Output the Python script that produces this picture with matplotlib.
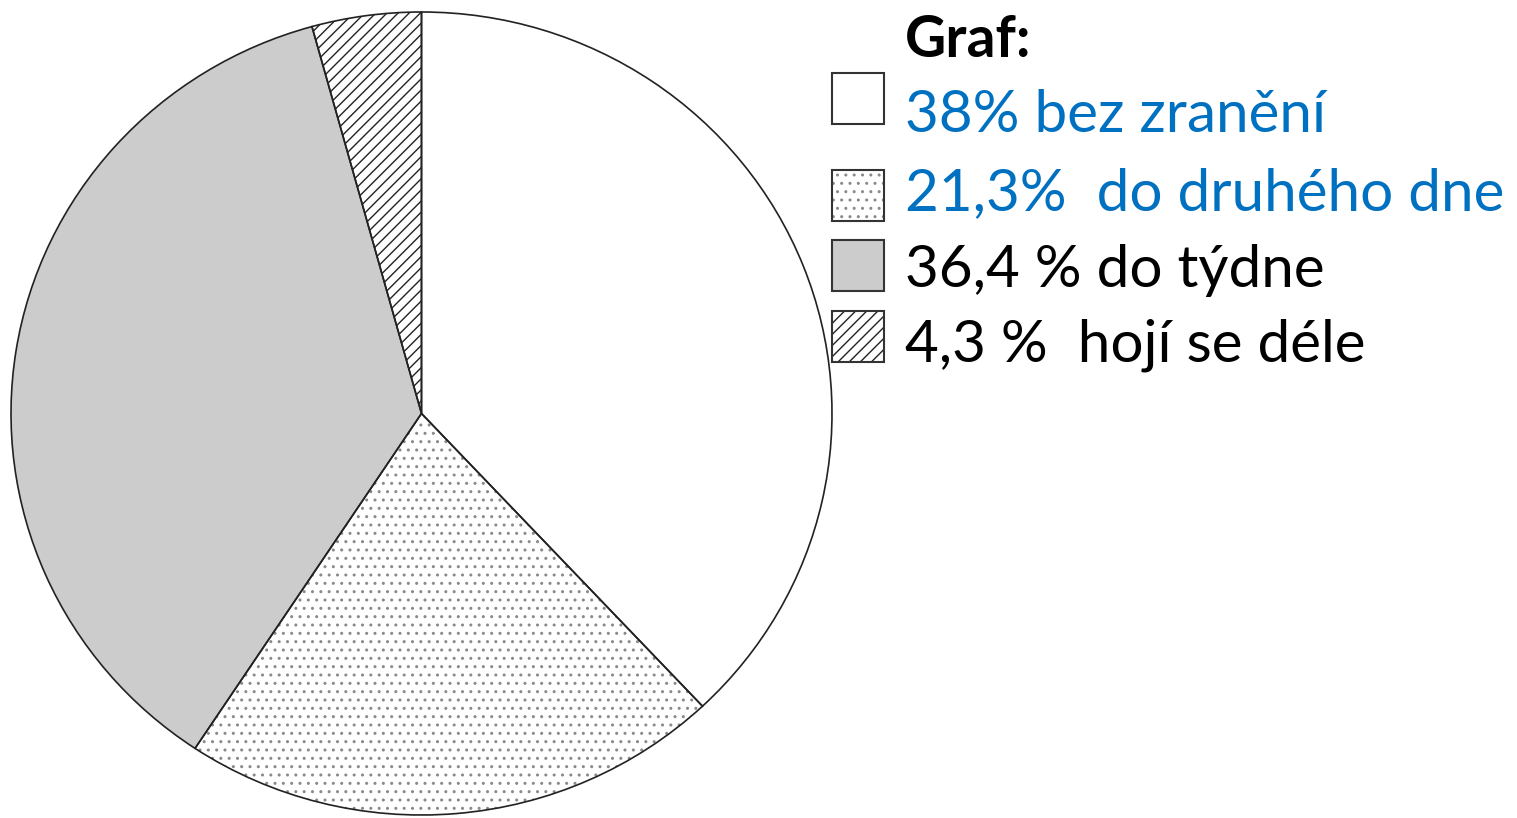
import matplotlib.pyplot as plt
from matplotlib.patches import Rectangle

plt.rcParams['font.family'] = ['Lato', 'DejaVu Sans']
plt.rcParams['hatch.linewidth'] = 1.0

shares = [38.0, 21.3, 36.4, 4.3]
labels = ['38% bez zranění', '21,3%  do druhého dne', '36,4 % do týdne', '4,3 %  hojí se déle']
label_colors = ['#0070c0', '#0070c0', 'black', 'black']
fills = ['white', 'white', '#cccccc', 'white']
hatches = [None, '..', None, '///']
hatch_colors = ['white', '#8a8a8a', '#cccccc', '#222222']

W, H = 1517, 818
fig = plt.figure(figsize=(W / 100, H / 100), dpi=100)

# pie is slightly squashed vertically in the original
ax = fig.add_axes([11 / W, 3 / H, 821 / W, 803 / H])
wedges, _ = ax.pie(shares, startangle=90, counterclock=False, colors=fills,
                   wedgeprops=dict(linewidth=0))
for w, h, hc in zip(wedges, hatches, hatch_colors):
    w.set_edgecolor(hc)
    if h:
        w.set_hatch(h)
ax.pie(shares, startangle=90, counterclock=False, colors=['none'] * 4,
       wedgeprops=dict(edgecolor='#222222', linewidth=1.2))
ax.set_aspect('auto')
ax.set_xlim(-1, 1)
ax.set_ylim(-1, 1)
ax.axis('off')

# legend drawn by hand
fig.text(905 / W, 1 - 57 / H, 'Graf:', fontsize=41, fontweight='bold',
         va='baseline', ha='left')
box_tops = [73, 170, 240, 311]
baselines = [132, 210, 287, 362]
for i, (lab, col) in enumerate(zip(labels, label_colors)):
    y0 = 1 - (box_tops[i] + 51) / H
    for fc, ec, lw, hh in [(fills[i], hatch_colors[i], 0, hatches[i]),
                           ('none', '#333333', 1.5, None)]:
        r = Rectangle((832 / W, y0), 52 / W, 51 / H, transform=fig.transFigure,
                      facecolor=fc, edgecolor=ec, linewidth=lw, hatch=hh)
        fig.patches.append(r)
    fig.text(905 / W, 1 - baselines[i] / H, lab, fontsize=42, color=col,
             va='baseline', ha='left')

fig.savefig('out.png', dpi=100)
